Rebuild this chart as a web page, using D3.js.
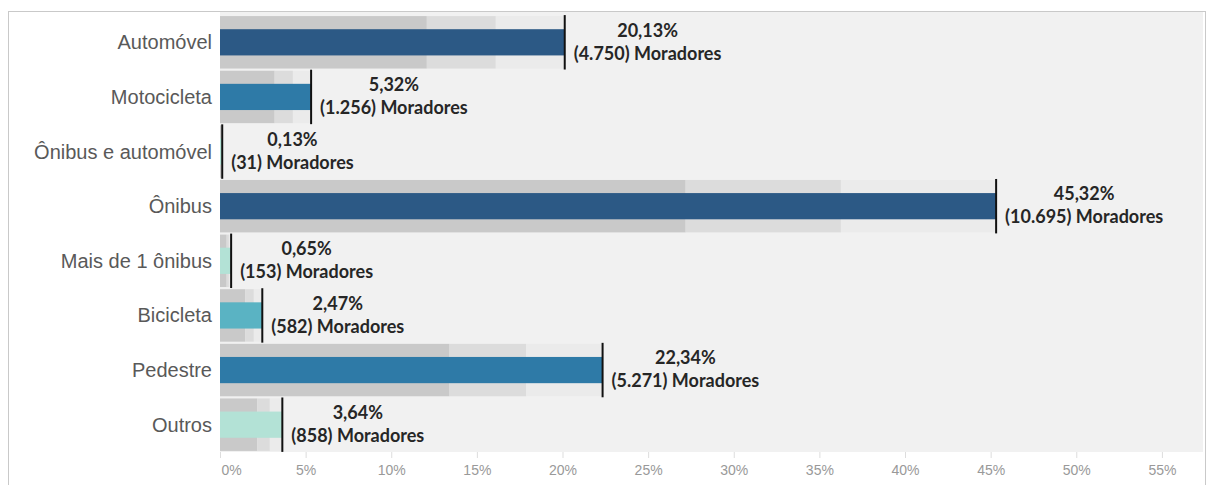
<!DOCTYPE html>
<html>
<head>
<meta charset="utf-8">
<script src="https://cdn.jsdelivr.net/npm/d3@7"></script>
<style>
  html, body { margin: 0; padding: 0; background: #ffffff; }
  svg { display: block; }
</style>
</head>
<body>
<svg id="chart" width="1208" height="485"></svg>
<script>
// Meio de transporte dos moradores: percentual e número de moradores
const categories = ["Automóvel", "Motocicleta", "Ônibus e automóvel", "Ônibus",
                    "Mais de 1 ônibus", "Bicicleta", "Pedestre", "Outros"];
const percentValues = [20.13, 5.32, 0.13, 45.32, 0.65, 2.47, 22.34, 3.64];
const residentCounts = [4750, 1256, 31, 10695, 153, 582, 5271, 858];
const barColors = ["#2c5985", "#2e7aa7", "#b3e2d6", "#2c5985",
                   "#b3e2d6", "#5ab3c3", "#2e7aa7", "#b3e2d6"];
const tickValues = [0, 5, 10, 15, 20, 25, 30, 35, 40, 45, 50, 55];
// Faixas de distribuição como fração do valor de referência
const bandStops = [0, 0.6, 0.8, 1.0];
const bandFills = ["#c9c9c9", "#dcdcdc", "#ebebeb"];

const ptBR = d3.formatLocale({ decimal: ",", thousands: ".", grouping: [3], currency: ["R$", ""] });
const fmtPct = v => ptBR.format(".2f")(v) + "%";
const fmtInt = ptBR.format(",d");

const svg = d3.select("#chart");
const plot = { left: 220, right: 1203, top: 15, bottom: 452 };

const x = d3.scaleLinear().domain([0, 57.4]).range([plot.left, plot.right]);
const y = d3.scaleBand().domain(categories).range([plot.top, plot.bottom]).paddingInner(0.04).paddingOuter(0.02);

const rows = categories.map((c, i) => ({
  cat: c, value: percentValues[i], count: residentCounts[i], color: barColors[i]
}));

// Moldura externa
svg.append("line").attr("x1", 8).attr("x2", 1206).attr("y1", 11.5).attr("y2", 11.5)
  .attr("stroke", "#c9c9c9").attr("stroke-width", 1);
svg.append("line").attr("x1", 8.5).attr("x2", 8.5).attr("y1", 11).attr("y2", 485)
  .attr("stroke", "#c9c9c9").attr("stroke-width", 1);
svg.append("line").attr("x1", 1205.5).attr("x2", 1205.5).attr("y1", 11).attr("y2", 485)
  .attr("stroke", "#c9c9c9").attr("stroke-width", 1);

// Fundo da área de plotagem
svg.append("rect")
  .attr("x", plot.left).attr("y", 12)
  .attr("width", plot.right - plot.left).attr("height", plot.bottom - 12)
  .attr("fill", "#f1f1f1");

// Faixas de referência (60% / 80% / 100%)
const bandData = [];
rows.forEach(r => {
  for (let k = 0; k < 3; k++) {
    bandData.push({ cat: r.cat, from: r.value * bandStops[k], to: r.value * bandStops[k + 1], fill: bandFills[k] });
  }
});
svg.append("g").selectAll("rect").data(bandData).join("rect")
  .attr("x", d => x(d.from))
  .attr("width", d => Math.max(0, x(d.to) - x(d.from)))
  .attr("y", d => y(d.cat))
  .attr("height", y.bandwidth())
  .attr("fill", d => d.fill);

// Barras
const barH = y.bandwidth() * 0.5;
svg.append("g").selectAll("rect").data(rows).join("rect")
  .attr("x", x(0))
  .attr("width", d => x(d.value) - x(0))
  .attr("y", d => y(d.cat) + (y.bandwidth() - barH) / 2)
  .attr("height", barH)
  .attr("fill", d => d.color);

// Linhas de referência
svg.append("g").selectAll("line").data(rows).join("line")
  .attr("x1", d => x(d.value)).attr("x2", d => x(d.value))
  .attr("y1", d => y(d.cat) - 1).attr("y2", d => y(d.cat) + y.bandwidth() + 1)
  .attr("stroke", "#111").attr("stroke-width", 2);

// Rótulos das categorias
svg.append("g").selectAll("text").data(rows).join("text")
  .attr("x", 212)
  .attr("y", d => y(d.cat) + y.bandwidth() / 2)
  .attr("dy", "0.35em")
  .attr("text-anchor", "end")
  .attr("font-family", "'Liberation Sans', Arial, sans-serif")
  .attr("font-size", 20)
  .attr("fill", "#595959")
  .text(d => d.cat);

// Rótulos de valor (duas linhas)
const labelGroups = svg.append("g").selectAll("g").data(rows).join("g");
labelGroups.each(function(d) {
  const g = d3.select(this);
  const cy = y(d.cat) + y.bandwidth() / 2;
  const t2 = g.append("text")
    .attr("y", cy + 11)
    .attr("dy", "0.35em")
    .attr("text-anchor", "middle")
    .attr("font-family", "Lato, 'Open Sans', sans-serif")
    .attr("font-weight", 700)
    .attr("font-size", 18)
    .attr("fill", "#262626")
    .text("(" + fmtInt(d.count) + ") Moradores");
  const w = t2.node().getComputedTextLength();
  const cx = x(d.value) + 9 + w / 2;
  t2.attr("x", cx);
  g.append("text")
    .attr("x", cx)
    .attr("y", cy - 12)
    .attr("dy", "0.35em")
    .attr("text-anchor", "middle")
    .attr("font-family", "Lato, 'Open Sans', sans-serif")
    .attr("font-weight", 700)
    .attr("font-size", 18)
    .attr("fill", "#262626")
    .text(fmtPct(d.value));
});

// Eixo X
const axis = svg.append("g")
  .attr("transform", `translate(0,${plot.bottom})`)
  .call(d3.axisBottom(x).tickValues(tickValues).tickSize(6).tickSizeOuter(0).tickFormat(d => d + "%"));
axis.select(".domain").remove();
axis.selectAll(".tick line").attr("stroke", "#dddddd");
axis.selectAll(".tick text")
  .attr("y", 13)
  .attr("font-family", "'Liberation Sans Narrow', 'Liberation Sans', Arial, sans-serif")
  .attr("font-size", 14)
  .attr("fill", "#999999");
axis.selectAll(".tick text").filter(d => d === 0).attr("text-anchor", "start").attr("x", 1);
</script>
</body>
</html>
